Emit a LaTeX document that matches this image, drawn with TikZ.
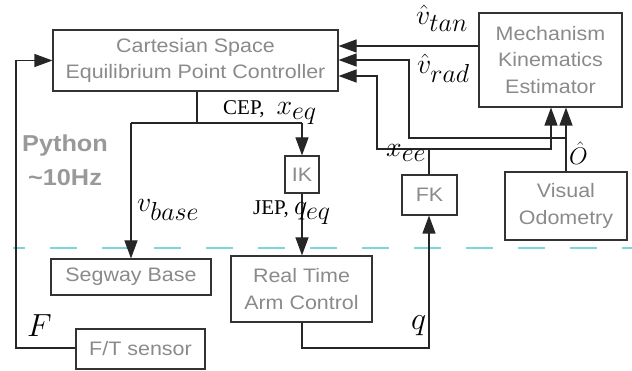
\RequirePackage{fix-cm}
\documentclass[tikz,border=0pt]{standalone}
\usepackage{fontspec}
\newfontfamily\hv[FakeStretch=1.1]{Liberation Sans}
\newfontfamily\tms{Liberation Serif}
\usetikzlibrary{arrows.meta}
\DeclareMathSizes{28}{28}{26}{20}
\DeclareMathSizes{32}{32}{26}{20}
\definecolor{txtgray}{HTML}{8A8A8A}
\definecolor{pygray}{HTML}{999999}
\definecolor{dashcyan}{HTML}{7DD4DC}
\newcommand\lm[1]{{\fontsize{28}{32}\selectfont$#1$}}
\begin{document}
\begin{tikzpicture}[x=1pt,y=-1pt,
  box/.style={draw=black!80, line width=1.1pt, inner sep=0pt, align=center,
     font=\hv\fontsize{19.5}{26.5}\selectfont, text=txtgray},
  wire/.style={line width=1.1pt, draw=black!85},
  arr/.style={wire, -{Triangle[length=18pt,width=13pt]}},
  lab/.style={inner sep=0pt, anchor=base west, font=\fontsize{28}{32}\selectfont},
  rlab/.style={inner sep=0pt, anchor=base west, font=\tms\fontsize{21}{24}\selectfont},
  biglab/.style={inner sep=0pt, anchor=base west, font=\fontsize{32}{36}\selectfont},
]
\useasboundingbox (0,0) rectangle (632,371);
\draw[dashcyan, line width=1.5pt, dash pattern=on 27pt off 25pt, dash phase=15pt] (13,248) -- (632,248);

% boxes
\node[box, minimum width=285pt, minimum height=61pt] (cart) at (195.5,60.5) {Cartesian Space\\Equilibrium Point Controller};
\node[box, minimum width=143pt, minimum height=94pt] (mech) at (550.5,60) {Mechanism\\Kinematics\\Estimator};
\node[box, minimum width=34pt, minimum height=37pt] (ik) at (302,174.5) {IK};
\node[box, minimum width=55pt, minimum height=40pt] (fk) at (429.5,195) {FK};
\node[box, minimum width=122pt, minimum height=68pt] (vo) at (566,206) {Visual\\Odometry};
\node[box, minimum width=160pt, minimum height=36pt] (seg) at (131,277) {Segway Base};
\node[box, minimum width=141pt, minimum height=66pt] (rt) at (301.5,289) {Real Time\\Arm Control};
\node[box, minimum width=129pt, minimum height=40pt] (ft) at (140.5,349) {F/T sensor};

\node[inner sep=0pt, align=center, text=pygray, font=\hv\bfseries\fontsize{23}{34}\selectfont] (py) at (65,160) {Python\\\textasciitilde10Hz};

% coordinates
\coordinate (lbot) at (16,348);
\coordinate (ltop) at (16,60.5);
\coordinate (cep) at (197,123);
\coordinate (spl) at (131,123);
\coordinate (spr) at (302,123);
\coordinate (qa) at (302,348);
\coordinate (qb) at (429,348);
\coordinate (xa) at (429,149);
\coordinate (xl) at (377,149);
\coordinate (xr) at (551,149);
\coordinate (xt) at (377,76);
\coordinate (vt) at (479,46);
\coordinate (oa) at (566,138);
\coordinate (ob) at (409,138);
\coordinate (oc) at (409,60);

% connectors
\draw[arr] (ft.west |- lbot) -- (lbot) -- (ltop) -- (cart.west);
\draw[wire] (cart.south -| cep) -- (cep);
\draw[wire] (spl) -- (spr);
\draw[arr] (spl) -- (seg.north -| spl);
\draw[arr] (spr) -- (ik.north);
\draw[arr] (ik.south) -- (rt.north -| ik.south);
\draw[arr] (rt.south -| qa) -- (qa) -- (qb) -- (fk.south -| qb);
\draw[wire] (fk.north -| xa) -- (xa);
\draw[arr] (xa) -- (xl) -- (xt) -- (cart.east |- xt);
\draw[arr] (xa) -- (xr) -- (mech.south -| xr);
\draw[arr] (mech.west |- vt) -- (cart.east |- vt);
\draw[arr] (vo.north) -- (mech.south -| vo.north);
\draw[arr] (oa) -- (ob) -- (oc) -- (cart.east |- oc);

% labels
\node[lab] (lvt) at (416,25) {$\hat v_{tan}$};
\node[lab] (lvr) at (417,74) {$\hat v_{rad}$};
\node[lab] (lxe) at (386,157) {$x_{ee}$};
\node[inner sep=0pt, anchor=base west, font=\fontsize{24}{28}\selectfont] (lo) at (569,165) {$\hat O$};
\node[rlab] (lcep) at (223,115) {CEP,\hspace{12pt}\lm{x_{eq}}};
\node[lab] (lvb) at (137,212) {$v_{base}$};
\node[rlab] (ljep) at (253,215) {JEP, \lm{q_{eq}}};
\node[biglab] (lf) at (27,337) {$F$};
\node[biglab] (lq) at (411,330) {$q$};
\end{tikzpicture}
\end{document}
